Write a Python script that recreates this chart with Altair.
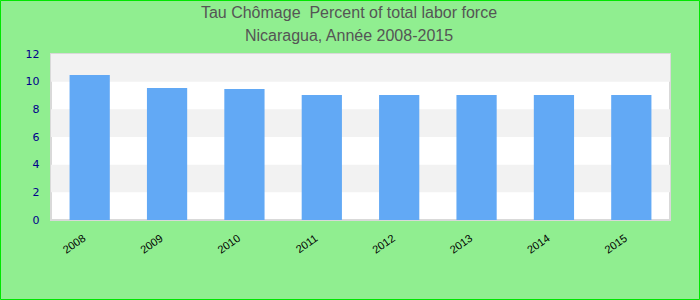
import altair as alt
import pandas as pd

years = ["2008", "2009", "2010", "2011", "2012", "2013", "2014", "2015"]
values = [10.48, 9.55, 9.47, 9.04, 9.04, 9.04, 9.04, 9.04]
stripe_lo = [2, 6, 10]
stripe_hi = [4, 8, 12]
title_line1 = "Tau Chômage\u00a0 Percent of total labor force"
title_line2 = "Nicaragua, Année 2008-2015"
y_ticks = [0, 2, 4, 6, 8, 10, 12]

W, H = 619, 166
PL, PT, PR, PB = 51, 54, 30, 80

bars_df = pd.DataFrame({"year": years, "value": values})
stripes_df = pd.DataFrame({"lo": stripe_lo, "hi": stripe_hi})

yscale = alt.Scale(domain=[0, 12], nice=False)
yaxis = alt.Axis(title=None, values=y_ticks, labelColor="#00008b",
                 labelFontSize=11, labelFont="DejaVu Sans", labelPadding=12,
                 labelOverlap=False, ticks=False, domain=False, grid=False)

stripes = alt.Chart(stripes_df).mark_rect(color="#f2f2f2").encode(
    x=alt.value(0), x2=alt.value(W),
    y=alt.Y("lo:Q", scale=yscale, axis=yaxis), y2="hi:Q",
)

bars = alt.Chart(bars_df).mark_bar(color="#62a9f5").encode(
    x=alt.X("year:N", sort=years,
            scale=alt.Scale(paddingInner=0.48, paddingOuter=0.24),
            axis=alt.Axis(title=None, labelAngle=-35, labelAlign="right",
                          labelBaseline="middle", labelPadding=17, labelOffset=-5,
                          labelFontSize=11, labelColor="#000000", labelFont="Liberation Sans",
                          ticks=False, domain=False)),
    y=alt.Y("value:Q", scale=yscale, axis=yaxis),
)

border = alt.Chart(pd.DataFrame({"a": [0]})).mark_rect(
    fill=None, stroke="#00e600", strokeWidth=1, clip=False
).encode(
    x=alt.value(-PL + 0.5), x2=alt.value(W + PR - 0.5),
    y=alt.value(-PT + 0.5), y2=alt.value(H + PB - 0.5),
)

def title_text(line, ypos):
    return alt.Chart(pd.DataFrame({"t": [line]})).mark_text(
        font="Liberation Sans", fontSize=16, color="#555555",
        align="center", baseline="middle"
    ).encode(text="t:N", x=alt.value(349 - PL), y=alt.value(ypos - PT))

chart = alt.layer(
    stripes, bars, border, title_text(title_line1, 13), title_text(title_line2, 36)
).properties(
    width=W, height=H,
    autosize=alt.AutoSizeParams(type="none"),
    padding={"left": PL, "top": PT, "right": PR, "bottom": PB},
    background="#90ee90",
).configure_view(fill="white", stroke="#d9d9d9", strokeWidth=2)

chart.save("out.html", embed_options={"renderer": "svg", "actions": False})
